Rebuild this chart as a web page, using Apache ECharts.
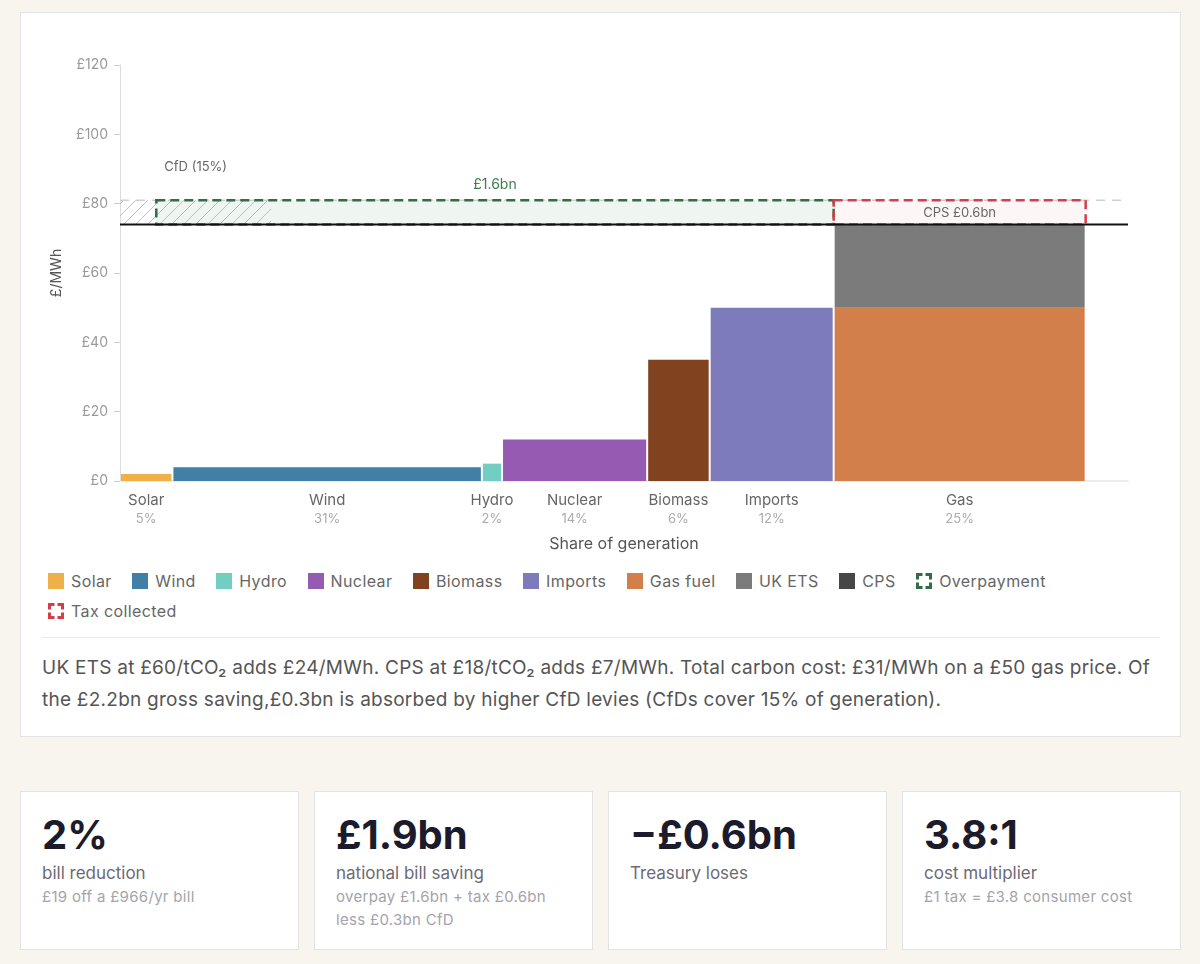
<!DOCTYPE html>
<html><head><meta charset="utf-8">
<script src="https://cdn.jsdelivr.net/npm/echarts@6/dist/echarts.min.js"></script>
<style>
html,body{margin:0;padding:0;background:#f8f5ee;font-family:Inter,"Noto Sans",sans-serif;}
body{width:1200px;height:964px;position:relative;overflow:hidden;}
.panel{position:absolute;left:20px;top:12px;width:1159px;height:723px;background:#fff;border:1px solid #e3e3e3;}
#chart{position:absolute;left:0;top:0;width:1200px;height:560px;}
.legend{position:absolute;left:48px;top:566px;width:1112px;display:flex;flex-wrap:wrap;font-size:16px;letter-spacing:0.4px;color:#666;line-height:30px;}
.li{display:flex;align-items:center;margin-right:20.5px;}
.sw{width:16px;height:16px;margin-right:7px;display:block;}
.sep{position:absolute;left:42px;top:637px;width:1118px;height:1px;background:#ebebeb;}
.note{position:absolute;left:42px;top:652px;width:1120px;font-size:19px;letter-spacing:0.25px;line-height:32px;color:#555;}
.card{position:absolute;top:791px;width:277px;height:157px;background:#fff;border:1px solid #e3e3e3;}
.card .v{position:absolute;left:21px;top:22.7px;font-size:40px;line-height:40px;font-weight:700;color:#1b1b2b;white-space:nowrap;}
.card .l{position:absolute;left:21px;top:72.5px;font-size:17px;line-height:17px;color:#6b6b75;white-space:nowrap;}
.card .s{position:absolute;left:21px;top:92.7px;font-size:15px;letter-spacing:0.3px;line-height:23px;color:#a4a4ab;white-space:nowrap;}
</style></head>
<body>
<div class="panel"></div>
<div id="chart"></div>
<div class="legend" id="legend"></div>
<div class="sep"></div>
<div class="note">UK ETS at £60/tCO₂ adds £24/MWh. CPS at £18/tCO₂ adds £7/MWh. Total carbon cost: £31/MWh on a £50 gas price. Of the £2.2bn gross saving,£0.3bn is absorbed by higher CfD levies (CfDs cover 15% of generation).</div>
<div class="card" style="left:20px"><div class="v">2%</div><div class="l">bill reduction</div><div class="s">£19 off a £966/yr bill</div></div>
<div class="card" style="left:314px"><div class="v">£1.9bn</div><div class="l">national bill saving</div><div class="s">overpay £1.6bn + tax £0.6bn<br>less £0.3bn CfD</div></div>
<div class="card" style="left:608px"><div class="v">−£0.6bn</div><div class="l">Treasury loses</div></div>
<div class="card" style="left:902px"><div class="v">3.8:1</div><div class="l">cost multiplier</div><div class="s">£1 tax = £3.8 consumer cost</div></div>
<script>
// ---- data ----
const categories = ['Solar','Wind','Hydro','Nuclear','Biomass','Imports','Gas'];
const shareLabels = ['5%','31%','2%','14%','6%','12%','25%'];
const shares = [5.2,30.7,2.0,14.4,6.2,12.3,25.0];   // % of generation (bar widths)
const costs = [2,4,5,12,35,50,50];                  // £/MWh; gas = fuel cost only
const ukEtsAdder = 24;                              // £/MWh
const cpsAdder = 7;                                 // £/MWh
const cfdShare = 15;                                // % of generation
const overpayStart = 3.6;                           // % share where overpayment box starts
const yTicks = [0,20,40,60,80,100,120];
const xMax = 100;
const legendNames = ['Solar','Wind','Hydro','Nuclear','Biomass','Imports','Gas fuel','UK ETS','CPS','Overpayment','Tax collected'];
const legendColors = ['#efb04a','#427fa6','#72cdc2','#955ab1','#81431f','#7d7bb9','#d27f4c','#7b7b7b','#474747','#2f6e46','#d43d4a'];
const overpayText = '£1.6bn';
const taxText = 'CPS £0.6bn';
const cfdText = 'CfD (15%)';

const barColors = legendColors.slice(0, 8);
const gasIdx = categories.length - 1;
const gasStart = shares.slice(0, gasIdx).reduce((a,b)=>a+b, 0);
const gasEnd = gasStart + shares[gasIdx];
const newPrice = costs[gasIdx] + ukEtsAdder;
const oldPrice = newPrice + cpsAdder;

// bars: [x0, x1, y0, y1, colorIndex]
const barData = [];
const labelData = [];
let cum = 0;
shares.forEach((s, i) => {
  barData.push([cum, cum + s, 0, costs[i], i]);
  labelData.push([cum + s / 2]);
  cum += s;
});
barData.push([gasStart, gasEnd, costs[gasIdx], newPrice, 7]);

// legend (HTML)
const lg = document.getElementById('legend');
legendNames.forEach((n, i) => {
  const d = document.createElement('div'); d.className = 'li';
  let sw;
  if (i >= 9) {
    sw = '<svg class="sw" viewBox="0 0 16 16"><path d="M1.5,6.5 V1.5 H6.5 M9.5,1.5 H14.5 V6.5 M14.5,9.5 V14.5 H9.5 M6.5,14.5 H1.5 V9.5" fill="none" stroke="' + legendColors[i] + '" stroke-width="3"/></svg>';
  } else {
    sw = '<span class="sw" style="background:' + legendColors[i] + '"></span>';
  }
  d.innerHTML = sw + '<span>' + n + '</span>';
  lg.appendChild(d);
});

// hatch pattern
const pc = document.createElement('canvas');
pc.width = 12; pc.height = 12;
const ctx = pc.getContext('2d');
ctx.strokeStyle = '#bdbdbd'; ctx.lineWidth = 1;
ctx.beginPath();
ctx.moveTo(0, 12); ctx.lineTo(12, 0);
ctx.moveTo(-6, 6); ctx.lineTo(6, -6);
ctx.moveTo(6, 18); ctx.lineTo(18, 6);
ctx.stroke();

const FONT = 'Inter, "Noto Sans", sans-serif';
const chart = echarts.init(document.getElementById('chart'), null, {renderer: 'canvas'});

function renderBar(params, api) {
  const p0 = api.coord([api.value(0), api.value(2)]);
  const p1 = api.coord([api.value(1), api.value(3)]);
  return {type: 'rect', shape: {x: p0[0] + 1, y: p1[1], width: p1[0] - p0[0] - 2, height: p0[1] - p1[1]},
    style: {fill: barColors[api.value(4)]}};
}
function renderLabel(params, api) {
  const i = params.dataIndex;
  const p = api.coord([api.value(0), 0]);
  return {type: 'group', children: [
    {type: 'text', x: p[0], y: p[1] + 19, style: {text: categories[i], fill: '#666', font: '15px ' + FONT, align: 'center', verticalAlign: 'middle'}},
    {type: 'text', x: p[0], y: p[1] + 38, style: {text: shareLabels[i], fill: '#ababab', font: '13px ' + FONT, align: 'center', verticalAlign: 'middle'}}
  ]};
}
function renderOverlay(params, api) {
  const X = v => api.coord([v, newPrice])[0];
  const yLo = api.coord([0, newPrice])[1];
  const yHi = api.coord([0, oldPrice])[1];
  const h = yLo - yHi;
  const gx0 = X(overpayStart), gx1 = X(gasStart);
  const rx0 = X(gasStart), rx1 = X(gasEnd);
  const dash = [9, 5];
  return {type: 'group', children: [
    {type: 'rect', shape: {x: gx0, y: yHi, width: gx1 - gx0, height: h}, style: {fill: 'rgba(47,125,80,0.08)'}},
    {type: 'rect', shape: {x: X(0), y: yHi, width: X(cfdShare) - X(0), height: h}, style: {fill: {image: pc, repeat: 'repeat'}}},
    {type: 'line', shape: {x1: X(0), y1: yHi, x2: X(xMax) - 6, y2: yHi}, style: {stroke: '#cfcfcf', lineWidth: 1.5, lineDash: [9, 7]}},
    {type: 'rect', shape: {x: gx0, y: yHi, width: gx1 - gx0, height: h}, style: {fill: null, stroke: '#2f6e46', lineWidth: 2.5, lineDash: dash}},
    {type: 'rect', shape: {x: rx0, y: yHi, width: rx1 - rx0, height: h}, style: {fill: 'rgba(220,70,80,0.05)', stroke: '#d43d4a', lineWidth: 2.5, lineDash: dash}},
    {type: 'line', shape: {x1: X(0), y1: yLo, x2: X(xMax), y2: yLo}, style: {stroke: '#111', lineWidth: 2}},
    {type: 'text', x: (gx0 + gx1) / 2, y: yHi - 15, style: {text: overpayText, fill: '#3d7d52', font: '14px ' + FONT, align: 'center', verticalAlign: 'middle'}},
    {type: 'text', x: (rx0 + rx1) / 2, y: (yHi + yLo) / 2 + 1, style: {text: taxText, fill: '#666', font: '13px ' + FONT, align: 'center', verticalAlign: 'middle'}},
    {type: 'text', x: gx0 + 8, y: yHi - 33, style: {text: cfdText, fill: '#666', font: '13px ' + FONT, align: 'left', verticalAlign: 'middle'}}
  ]};
}

chart.setOption({
  animation: false,
  grid: {left: 120, top: 65, width: 1008, height: 416},
  xAxis: {type: 'value', min: 0, max: xMax,
    axisLine: {show: true, lineStyle: {color: '#e6e6e6', width: 1.5}},
    axisTick: {show: false}, axisLabel: {show: false}, splitLine: {show: false},
    name: 'Share of generation', nameLocation: 'middle', nameGap: 55,
    nameTextStyle: {color: '#555', fontSize: 16, fontFamily: FONT}},
  yAxis: {type: 'value', min: yTicks[0], max: yTicks[yTicks.length - 1], interval: yTicks[1] - yTicks[0],
    axisLine: {show: true, lineStyle: {color: '#dcdcdc'}},
    axisTick: {show: true, length: 6, lineStyle: {color: '#cccccc'}},
    axisLabel: {formatter: '£{value}', color: '#9a9a9a', fontSize: 14, margin: 12, fontFamily: FONT},
    splitLine: {show: false},
    name: '£/MWh', nameLocation: 'middle', nameGap: 56,
    nameTextStyle: {color: '#555', fontSize: 14, fontFamily: FONT}},
  series: [
    {type: 'custom', renderItem: renderBar, data: barData, encode: {x: [0, 1], y: [2, 3]}, z: 2},
    {type: 'custom', renderItem: renderLabel, data: labelData, encode: {x: 0}, clip: false, z: 3},
    {type: 'custom', renderItem: renderOverlay, data: [[0]], encode: {x: 0}, clip: false, z: 4}
  ]
});
</script>
</body></html>
